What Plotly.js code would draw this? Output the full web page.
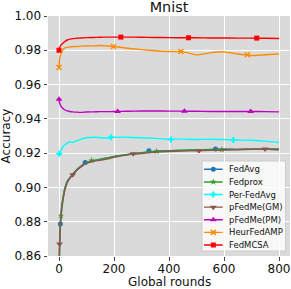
<!DOCTYPE html>
<html>
<head>
<meta charset="utf-8">
<script src="https://cdn.plot.ly/plotly-3.0.1.min.js"></script>
<style>html,body{margin:0;padding:0;background:#fff;}#chart{width:291px;height:289px;}</style>
</head>
<body>
<div id="chart"></div>
<script>
// ---- data ----
const rounds = [0, 2, 5, 10, 15, 20, 30, 40, 50, 65, 80, 100, 125, 150, 175, 200, 250, 300, 350, 400, 450, 500, 550, 600, 650, 700, 750, 800];

const fedAvg    = [0.835, 0.862, 0.8787, 0.8885, 0.894, 0.8985, 0.9035, 0.9058, 0.9078, 0.9105, 0.9125, 0.9146, 0.9155, 0.9165, 0.9172, 0.9181, 0.9192, 0.9202, 0.9212, 0.9214, 0.9216, 0.9219, 0.9222, 0.9224, 0.9222, 0.9223, 0.9222, 0.9221];
const fedProx   = [0.84, 0.866, 0.881, 0.8895, 0.8945, 0.8985, 0.9035, 0.9057, 0.9075, 0.9103, 0.9122, 0.9142, 0.9157, 0.9163, 0.9172, 0.918, 0.9193, 0.9203, 0.921, 0.9213, 0.9217, 0.9219, 0.922, 0.922, 0.9222, 0.9223, 0.9224, 0.9224];
const perFedAvg = [0.9197, 0.9205, 0.921, 0.9225, 0.9238, 0.9248, 0.9258, 0.9267, 0.9262, 0.9272, 0.9282, 0.929, 0.9293, 0.929, 0.9288, 0.9292, 0.9293, 0.929, 0.9286, 0.9281, 0.9282, 0.928, 0.9281, 0.9279, 0.9277, 0.9275, 0.927, 0.9262];
const pFedMeGM  = [0.845, 0.867, 0.877, 0.887, 0.893, 0.8975, 0.9028, 0.9055, 0.9074, 0.910, 0.912, 0.914, 0.9153, 0.9158, 0.9165, 0.9175, 0.919, 0.9198, 0.9205, 0.921, 0.9212, 0.9214, 0.9216, 0.9218, 0.922, 0.9222, 0.9224, 0.922];
const pFedMePM  = [0.9515, 0.9495, 0.948, 0.9468, 0.946, 0.9453, 0.9447, 0.9443, 0.9441, 0.9439, 0.9438, 0.944, 0.9441, 0.9442, 0.9442, 0.9443, 0.9444, 0.9446, 0.9446, 0.9445, 0.9445, 0.9444, 0.9443, 0.9443, 0.9443, 0.9443, 0.9442, 0.9441];
const heurFedAMP = [0.970, 0.9745, 0.977, 0.979, 0.9805, 0.9813, 0.9817, 0.982, 0.9822, 0.9822, 0.9824, 0.9825, 0.9826, 0.9828, 0.9825, 0.9822, 0.9812, 0.9804, 0.9797, 0.9793, 0.9792, 0.9773, 0.9785, 0.9791, 0.9778, 0.977, 0.9774, 0.9778];
const fedMCSA   = [0.980, 0.9815, 0.9825, 0.9835, 0.9843, 0.985, 0.986, 0.9865, 0.9868, 0.987, 0.9872, 0.9874, 0.9875, 0.9876, 0.9877, 0.9877, 0.9877, 0.9876, 0.9875, 0.9874, 0.9873, 0.9873, 0.9872, 0.9872, 0.9871, 0.9871, 0.987, 0.9869];

// marker positions (rounds) and values
const mkFedAvgX = [5, 95, 327, 569],        mkFedAvgY = [0.8787, 0.9146, 0.9214, 0.9224];
const mkFedProxX = [7, 119, 355, 592],      mkFedProxY = [0.8835, 0.9157, 0.921, 0.922];
const mkPerFedAvgX = [1, 189, 407, 634],    mkPerFedAvgY = [0.9197, 0.9292, 0.928, 0.9277];
const mkGMX = [2, 50, 270, 509, 749],       mkGMY = [0.867, 0.9074, 0.9197, 0.9214, 0.9224];
const mkPMX = [0, 213, 456, 697],           mkPMY = [0.9515, 0.9443, 0.9445, 0.9443];
const mkHeurX = [0, 198, 443, 685],         mkHeurY = [0.970, 0.9822, 0.9793, 0.9774];
const mkMCSAX = [0, 225, 471, 719],         mkMCSAY = [0.980, 0.9877, 0.9873, 0.9871];

const seriesNames = ["FedAvg", "Fedprox", "Per-FedAvg", "pFedMe(GM)", "pFedMe(PM)", "HeurFedAMP", "FedMCSA"];
const xTicks = [0, 200, 400, 600, 800];
const yTicks = [0.86, 0.88, 0.90, 0.92, 0.94, 0.96, 0.98, 1.00];
const chartTitle = "Mnist", xTitle = "Global rounds", yTitle = "Accuracy";

// ---- styles ----
const styles = [
  {color: "#1f77b4", symbol: "circle", size: 5},
  {color: "#2ca02c", symbol: "star", size: 5},
  {color: "#00ffff", symbol: "cross", size: 5},
  {color: "#8c564b", symbol: "triangle-down", size: 6},
  {color: "#bf00bf", symbol: "triangle-up", size: 6},
  {color: "#ff8c00", symbol: "x-thin-open", size: 5},
  {color: "#ff0000", symbol: "square", size: 5}
];
const lineVals = [fedAvg, fedProx, perFedAvg, pFedMeGM, pFedMePM, heurFedAMP, fedMCSA];
const mkX = [mkFedAvgX, mkFedProxX, mkPerFedAvgX, mkGMX, mkPMX, mkHeurX, mkMCSAX];
const mkY = [mkFedAvgY, mkFedProxY, mkPerFedAvgY, mkGMY, mkPMY, mkHeurY, mkMCSAY];

const traces = [];
const annotations = [];
seriesNames.forEach((name, i) => {
  const st = styles[i];
  const mk = {symbol: st.symbol, size: st.size, color: st.color,
              line: {color: st.color, width: st.symbol.indexOf("x-thin") === 0 ? 1.5 : 0}};
  traces.push({type: "scatter", mode: "lines", x: rounds, y: lineVals[i], name: name,
    line: {color: st.color, width: 1.4, shape: "spline", smoothing: 0.5}, hoverinfo: "skip"});
  traces.push({type: "scatter", mode: "markers", x: mkX[i], y: mkY[i], name: name,
    marker: mk, hoverinfo: "skip"});
  // legend entry on its own small axes
  traces.push({type: "scatter", mode: "lines", x: [2, 20.7], y: [i, i], xaxis: "x2", yaxis: "y2",
    line: {color: st.color, width: 1.4}, hoverinfo: "skip"});
  traces.push({type: "scatter", mode: "markers", x: [11.3], y: [i], xaxis: "x2", yaxis: "y2",
    marker: mk, hoverinfo: "skip"});
  annotations.push({text: name, x: 26, y: i, xref: "x2", yref: "y2", xanchor: "left", yanchor: "middle",
    showarrow: false, font: {size: 8.5, color: "#111"}, borderpad: 0});
});

// axis titles
annotations.push({text: xTitle, xref: "paper", yref: "paper", x: 0.5, y: -0.107, xanchor: "center", yanchor: "middle",
  showarrow: false, font: {size: 12, color: "#111"}, borderpad: 0});
annotations.push({text: yTitle, xref: "paper", yref: "paper", x: -0.172, y: 0.5, xanchor: "center", yanchor: "middle",
  textangle: -90, showarrow: false, font: {size: 12, color: "#111"}, borderpad: 0});

const axisCommon = {
  showgrid: true, gridcolor: "#ffffff", gridwidth: 1, zeroline: false, showline: false,
  ticks: "outside", ticklen: 3.5, tickwidth: 1, tickcolor: "#444",
  tickfont: {size: 12, color: "#111"}, fixedrange: true
};

const layout = {
  width: 291, height: 289,
  margin: {l: 48, r: 1, t: 16, b: 33, pad: 0},
  paper_bgcolor: "#ffffff", plot_bgcolor: "rgba(0,0,0,0)",
  font: {family: "DejaVu Sans", size: 12, color: "#111"},
  showlegend: false,
  title: {text: chartTitle, font: {size: 14.4, color: "#111"}, x: 0.5, xref: "paper",
          y: 0.975, yref: "container", yanchor: "middle"},
  xaxis: Object.assign({}, axisCommon, {range: [-40, 840], tickvals: xTicks, anchor: "y", ticklabelstandoff: -2}),
  yaxis: Object.assign({}, axisCommon, {range: [0.86, 1.00], tickvals: yTicks, tickformat: ".2f", anchor: "x"}),
  xaxis2: {domain: [0.6364, 0.9814], range: [0, 83.5], anchor: "y2", visible: false, fixedrange: true},
  yaxis2: {domain: [0.0208, 0.3958], range: [6.476, -0.659], anchor: "x2", visible: false, fixedrange: true},
  shapes: [
    {type: "rect", xref: "paper", yref: "paper", x0: 0, x1: 1, y0: 0, y1: 1,
     fillcolor: "#dadada", line: {width: 0}, layer: "below"},
    {type: "rect", xref: "paper", yref: "paper", x0: 0.6364, x1: 0.9814, y0: 0.0208, y1: 0.3958,
     fillcolor: "rgba(255,255,255,0.8)", line: {color: "#cccccc", width: 1}, layer: "below"}
  ],
  annotations: annotations
};

Plotly.newPlot("chart", traces, layout, {staticPlot: true, displayModeBar: false});
</script>
</body>
</html>
